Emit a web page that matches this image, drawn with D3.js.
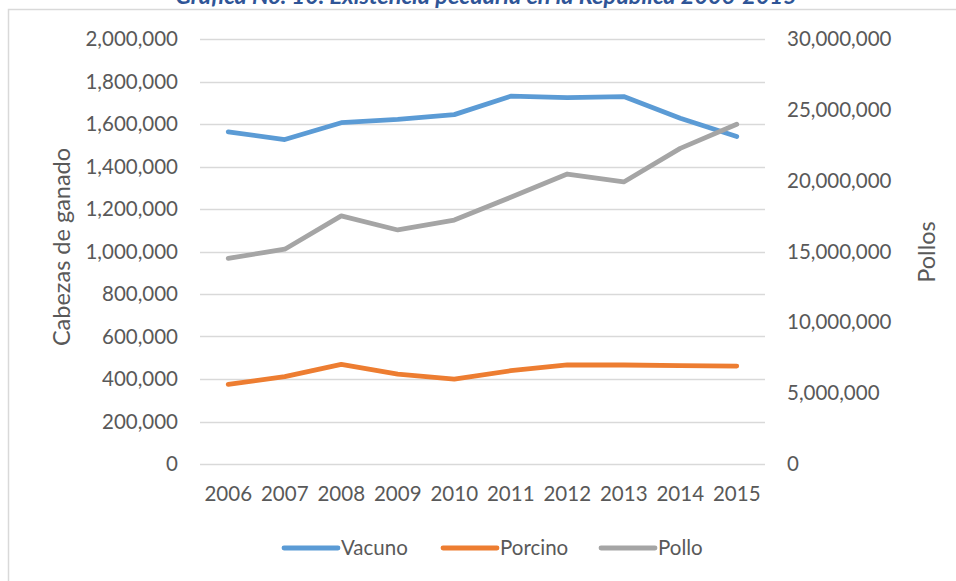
<!DOCTYPE html>
<html><head><meta charset="utf-8">
<script src="https://cdn.jsdelivr.net/npm/d3@7"></script>
<style>body{margin:0;background:#fff}svg{display:block;font-family:Lato,"Open Sans",sans-serif}</style>
</head><body><svg id="c" width="956" height="581"></svg>
<script>
const years = ["2006","2007","2008","2009","2010","2011","2012","2013","2014","2015"];
const vacuno = [1563000,1527000,1606000,1622000,1644000,1731000,1724000,1729000,1627000,1541000];
const porcino = [375000,411000,469000,423000,399000,439000,466000,466000,463000,461000];
const pollo = [14520000,15160000,17510000,16520000,17220000,18830000,20470000,19910000,22280000,23980000];
const leftTicks = [0,200000,400000,600000,800000,1000000,1200000,1400000,1600000,1800000,2000000];
const rightTicks = [0,5000000,10000000,15000000,20000000,25000000,30000000];
const seriesNames = ["Vacuno","Porcino","Pollo"];
const colors = ["#5B9BD5","#ED7D31","#A5A5A5"];
const title = "Gráfica No. 10. Existencia pecuaria en la República 2006-2015";

const svg = d3.select("#c");
const L=200,R=765,T=39,B=464;
const x = d3.scaleBand().domain(years).range([L,R]);
const yL = d3.scaleLinear().domain([0,2000000]).range([B,T]);
const yR = d3.scaleLinear().domain([0,30000000]).range([B,T]);
const fmt = d3.format(",");
const textCol = "#595959";
const fs = 20.5;

// frame
svg.append("path").attr("d","M8.5,581 V9.5 H956").attr("fill","none").attr("stroke","#D9D9D9").attr("stroke-width",1.5);
// title
svg.append("text").attr("x",486).attr("y",4).attr("text-anchor","middle")
  .attr("font-size",23.5).attr("font-weight","bold").attr("font-style","italic")
  .attr("fill","#2F5597").text(title);

// grid
svg.append("g").selectAll("line").data(leftTicks).join("line")
  .attr("x1",L).attr("x2",R).attr("y1",d=>Math.round(yL(d))+0.5).attr("y2",d=>Math.round(yL(d))+0.5)
  .attr("stroke","#D9D9D9").attr("stroke-width",1.3);

// left axis
const gL = svg.append("g").attr("transform",`translate(${L},0)`)
  .call(d3.axisLeft(yL).tickValues(leftTicks).tickFormat(fmt).tickSize(0).tickPadding(22));
gL.select(".domain").remove();
gL.selectAll("text").attr("font-size",fs).attr("fill",textCol).attr("font-family","Lato,sans-serif");

// right axis
const gR = svg.append("g").attr("transform",`translate(${R},0)`)
  .call(d3.axisRight(yR).tickValues(rightTicks).tickFormat(fmt).tickSize(0).tickPadding(22));
gR.select(".domain").remove();
gR.selectAll("text").attr("font-size",fs).attr("fill",textCol).attr("font-family","Lato,sans-serif");

// x axis
const gX = svg.append("g").attr("transform",`translate(0,${B})`)
  .call(d3.axisBottom(x).tickSize(0).tickPadding(22));
gX.select(".domain").remove();
gX.selectAll("text").attr("font-size",fs).attr("fill",textCol).attr("font-family","Lato,sans-serif");

// axis titles
svg.append("text").attr("transform","translate(70,247) rotate(-90)").attr("text-anchor","middle")
  .attr("font-size",23.5).attr("fill",textCol).text("Cabezas de ganado");
svg.append("text").attr("transform","translate(935,252) rotate(-90)").attr("text-anchor","middle")
  .attr("font-size",23.5).attr("fill",textCol).text("Pollos");

// lines
const cx = d => x(d)+x.bandwidth()/2;
const data = [
  {vals:vacuno, y:yL},
  {vals:porcino, y:yL},
  {vals:pollo, y:yR}
];
data.forEach((s,i)=>{
  const line = d3.line().x((d,j)=>cx(years[j])).y(d=>s.y(d));
  svg.append("path").datum(s.vals).attr("d",line).attr("fill","none")
    .attr("stroke",colors[i]).attr("stroke-width",4.8).attr("stroke-linecap","round").attr("stroke-linejoin","round");
});

// legend
const legX = [284,443,601];
const lg = svg.append("g");
seriesNames.forEach((n,i)=>{
  lg.append("line").attr("x1",legX[i]).attr("x2",legX[i]+54).attr("y1",548).attr("y2",548)
    .attr("stroke",colors[i]).attr("stroke-width",4.8).attr("stroke-linecap","round");
  lg.append("text").attr("x",legX[i]+57).attr("y",548).attr("dy","0.35em")
    .attr("font-size",fs).attr("fill",textCol).text(n);
});
</script></body></html>
